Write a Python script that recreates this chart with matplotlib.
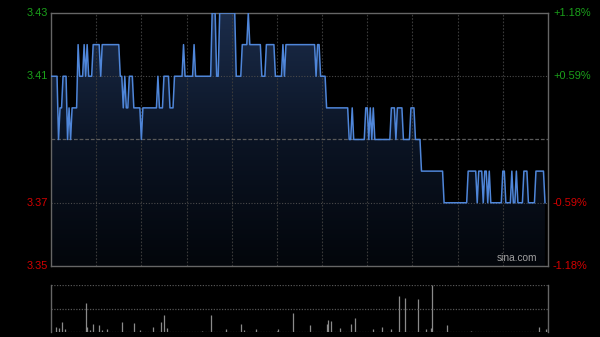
import numpy as np
import matplotlib
matplotlib.use("Agg")
import matplotlib.pyplot as plt
from matplotlib.colors import LinearSegmentedColormap

# ---- data (per-minute prices as runs: level, number of minutes) ----
run_levels = [3.41, 3.39, 3.40, 3.41, 3.39, 3.40, 3.39, 3.40, 3.42, 3.41,
              3.42, 3.41, 3.42, 3.41, 3.42, 3.41, 3.42, 3.41, 3.40, 3.41,
              3.40, 3.41, 3.40, 3.39, 3.40, 3.41, 3.40, 3.41, 3.40, 3.41,
              3.42, 3.41, 3.42, 3.41, 3.43, 3.41, 3.43, 3.41, 3.42, 3.43,
              3.42, 3.41, 3.42, 3.41, 3.42, 3.41, 3.42, 3.41, 3.42, 3.41,
              3.40, 3.39, 3.40, 3.39, 3.40, 3.39, 3.40, 3.39, 3.40, 3.39,
              3.40, 3.39, 3.40, 3.39, 3.40, 3.39, 3.38, 3.37, 3.38, 3.37,
              3.38, 3.37, 3.38, 3.37, 3.38, 3.37, 3.38, 3.37, 3.38, 3.37,
              3.38, 3.37, 3.38, 3.37, 3.38, 3.37]
run_lengths = [5, 1, 2, 3, 1, 1, 1, 4, 1, 3,
               1, 1, 1, 3, 5, 1, 12, 2, 1, 1,
               2, 3, 5, 1, 10, 1, 3, 4, 3, 6,
               1, 6, 1, 11, 3, 2, 11, 4, 4, 1,
               8, 3, 6, 5, 1, 1, 20, 1, 2, 4,
               15, 2, 1, 8, 2, 1, 1, 1, 1, 11,
               3, 1, 4, 5, 3, 4, 15, 16, 6, 1,
               3, 1, 2, 1, 1, 8, 2, 4, 1, 2,
               1, 4, 3, 5, 6, 1]
prices = np.repeat(run_levels, run_lengths)

prev_close = 3.39
y_ticks = [3.35, 3.37, 3.39, 3.41, 3.43]
left_labels = ["3.35", "3.37", "", "3.41", "3.43"]
right_labels = ["-1.18%", "-0.59%", "", "+0.59%", "+1.18%"]
label_colors = ["#d40000", "#d40000", "#888888", "#1aa01a", "#1aa01a"]

vol_minutes = [3, 5, 7, 9, 23, 24, 26, 28, 32, 34, 37, 47, 55, 59, 68, 73, 75, 77,
               100, 106, 116, 126, 128, 136, 150, 151, 161, 172, 183, 184, 186,
               192, 199, 202, 214, 220, 226, 231, 235, 244, 249, 252, 253, 263,
               279, 324, 329, 330]
vol_values = [0.11, 0.08, 0.22, 0.06, 0.62, 0.10, 0.05, 0.18, 0.15, 0.05, 0.06, 0.22,
              0.20, 0.04, 0.10, 0.22, 0.36, 0.09, 0.03, 0.36, 0.07, 0.18, 0.04,
              0.07, 0.03, 0.07, 0.40, 0.14, 0.16, 0.26, 0.24, 0.09, 0.17, 0.29,
              0.06, 0.11, 0.06, 0.77, 0.73, 0.70, 0.06, 0.08, 1.0, 0.15, 0.03,
              0.11, 0.06, 0.08]

total_minutes = 330

# ---- figure ----
fig = plt.figure(figsize=(6.0, 3.37), dpi=100, facecolor="black")
ax = fig.add_axes([51/600, 71/337, 497/600, 253/337], facecolor="black")
axv = fig.add_axes([51/600, 5/337, 497/600, 47/337], facecolor="black")

t = np.arange(len(prices))
ymin, ymax = 3.35, 3.43
ax.set_xlim(0, total_minutes)
ax.set_ylim(ymin, ymax)

# gradient fill under the line
cmap = LinearSegmentedColormap.from_list("g", ["#03060b", "#0b1424", "#1b2c4a"])
grad = np.linspace(0, 1, 256).reshape(-1, 1)
poly = ax.fill_between(t, prices, ymin, color="none", lw=0)
im = ax.imshow(grad, extent=[0, total_minutes, ymin, ymax], origin="lower",
               aspect="auto", cmap=cmap, zorder=1)
im.set_clip_path(poly.get_paths()[0], transform=ax.transData)

# grid
for k in range(1, 11):
    ax.axvline(k * 30, color="#3a3a3a", lw=0.8, ls=(0, (1.5, 1.5)), zorder=2)
for yv in (3.37, 3.41):
    ax.axhline(yv, color="#4a4a4a", lw=0.8, ls=(0, (1, 1.5)), zorder=2)
ax.axhline(prev_close, color="#5a5a5a", lw=0.9, ls=(0, (3, 1.5)), zorder=2)

ax.plot(t, prices, color="#4f86d9", lw=1.1, zorder=3)

for s in ax.spines.values():
    s.set_color("#666666")
    s.set_linewidth(1.0)
ax.set_xticks([])
ax.set_yticks([])

font = "Liberation Sans"
for yv, ll, rl, c in zip(y_ticks, left_labels, right_labels, label_colors):
    if ll:
        ax.text(-0.006, yv, ll, transform=ax.get_yaxis_transform(), ha="right",
                va="center", color=c, fontsize=7.9, family=font)
    if rl:
        ax.text(1.01, yv, rl, transform=ax.get_yaxis_transform(), ha="left",
                va="center", color=c, fontsize=7.9, family=font)

ax.text(0.978, 0.012, "sina.com", transform=ax.transAxes, ha="right", va="bottom",
        color="#a0a0a0", fontsize=7.3, family=font, zorder=5)

# volume panel
axv.set_xlim(0, total_minutes)
axv.set_ylim(0, 1.0)
axv.vlines(vol_minutes, 0, vol_values, color="#8a8a8a", lw=0.9)
axv.axhline(1.0, color="#555555", lw=0.9, ls=(0, (1, 1.2)))
axv.axhline(0.5, color="#555555", lw=0.9, ls=(0, (1, 1.2)))
axv.axhline(0.0, color="#555555", lw=0.9, ls=(0, (1, 1.2)))
for name, s in axv.spines.items():
    if name in ("left", "right"):
        s.set_color("#666666")
        s.set_linewidth(1.0)
    else:
        s.set_visible(False)
axv.set_xticks([])
axv.set_yticks([])

fig.savefig("out.png", dpi=100, facecolor="black")
